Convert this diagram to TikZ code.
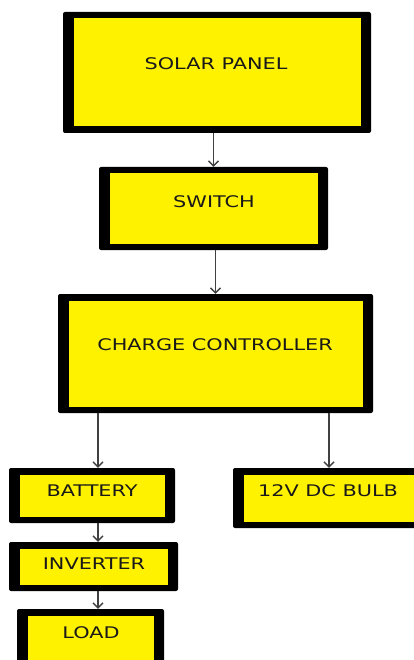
\documentclass[tikz,border=0pt]{standalone}
\usepackage{fontspec}
\setmainfont{DejaVu Sans}
\usepackage{graphicx}
\usetikzlibrary{arrows.meta}
\begin{document}
\begin{tikzpicture}[x=1pt,y=-1pt,
  blk/.style={rectangle, fill=black, rounded corners=2pt, inner sep=0pt,
    path picture={\fill[yellow,sharp corners] ([shift={(10.5pt,-6.5pt)}]path picture bounding box.north west) rectangle ([shift={(-10.5pt,6.5pt)}]path picture bounding box.south east);}},
  lbl/.style={text=black!90, font=\fontsize{16}{18}\selectfont, inner sep=0pt},
  conn/.style={draw=black!75, line width=1.4pt, -{Straight Barb[length=5pt,width=10pt]}}]
\clip (0,0) rectangle (414,660);
\useasboundingbox (0,0) rectangle (414,660);
\coordinate (bx) at (98,0);
\node[blk, minimum width=308pt, minimum height=121pt] (solar) at (217,72.5) {};
\node[lbl] (tsolar) at (216,64) {\scalebox{1.3}[1]{SOLAR PANEL}};
\node[blk, minimum width=229pt, minimum height=83pt] (sw) at (213.5,208.5) {};
\node[lbl] (tsw) at (214,202) {\scalebox{1.3}[1]{SWITCH}};
\node[blk, minimum width=315pt, minimum height=119pt] (cc) at (215.5,353.5) {};
\node[lbl] (tcc) at (215,345) {\scalebox{1.3}[1]{CHARGE CONTROLLER}};
\node[blk, minimum width=166pt, minimum height=55pt] (bat) at (92,495.5) {};
\node[lbl] (tbat) at (92,491) {\scalebox{1.3}[1]{BATTERY}};
\node[blk, minimum width=192pt, minimum height=60pt] (bulb) at (329,498) {};
\node[lbl] (tbulb) at (328,491) {\scalebox{1.3}[1]{12V DC BULB}};
\node[blk, minimum width=169pt, minimum height=49pt] (inv) at (93.5,566.5) {};
\node[lbl] (tinv) at (94,564) {\scalebox{1.3}[1]{INVERTER}};
\node[blk, minimum width=147pt, minimum height=57pt] (load) at (90.5,637.5) {};
\node[lbl] (tload) at (91,633) {\scalebox{1.3}[1]{LOAD}};
\draw[conn] (sw.north |- solar.south) -- (sw.north);
\draw[conn] (sw.south -| cc.north) -- (cc.north);
\draw[conn] (cc.south -| bx) -- (bat.north -| bx);
\draw[conn] (cc.south -| bulb.north) -- (bulb.north);
\draw[conn] (bat.south -| bx) -- (inv.north -| bx);
\draw[conn] (inv.south -| bx) -- (load.north -| bx);
\end{tikzpicture}
\end{document}
